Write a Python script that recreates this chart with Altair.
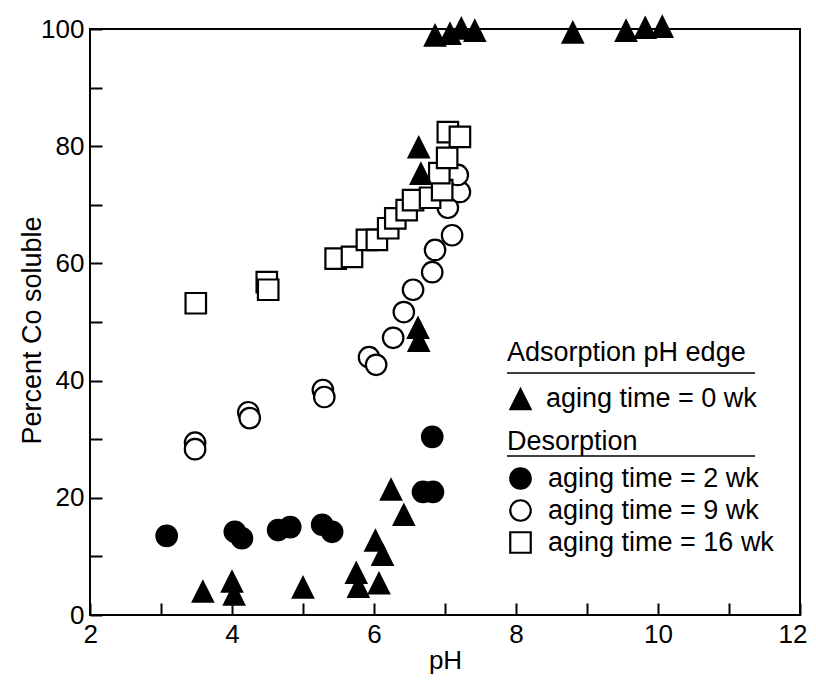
import altair as alt
import pandas as pd

# ---- data ----
# Adsorption pH edge, aging time = 0 wk (filled triangles)
ads_ph = [3.59, 4.00, 4.03, 5.00, 5.75, 5.78, 6.07, 6.02, 6.12, 6.24, 6.42,
          6.62, 6.63, 6.63, 6.66, 6.86, 7.07, 7.23, 7.42, 8.80, 9.55, 9.82, 10.06]
ads_pct = [4.1, 5.8, 3.6, 4.8, 7.3, 4.9, 5.5, 12.8, 10.4, 21.5, 17.2,
           49.1, 46.9, 79.9, 75.4, 99.0, 99.3, 100.2, 99.8, 99.5, 99.8, 100.3, 100.5]

# Desorption, aging time = 2 wk (filled circles)
d2_ph = [3.08, 4.04, 4.14, 4.65, 4.82, 5.27, 5.41, 6.69, 6.83, 6.82]
d2_pct = [13.5, 14.2, 13.1, 14.5, 15.0, 15.4, 14.2, 21.0, 21.0, 30.4]

# Desorption, aging time = 9 wk (open circles)
d9_ph = [3.48, 3.48, 4.23, 4.25, 5.28, 5.30, 5.93, 6.03, 6.27, 6.42, 6.55,
         6.82, 6.86, 7.10, 7.04, 7.21, 7.18]
d9_pct = [29.4, 28.3, 34.6, 33.6, 38.4, 37.2, 44.0, 42.7, 47.3, 51.7, 55.5,
          58.5, 62.3, 64.8, 69.5, 72.2, 75.1]

# Desorption, aging time = 16 wk (open squares)
d16_ph = [3.49, 4.49, 4.51, 5.46, 5.69, 5.90, 6.04, 6.20, 6.30, 6.46, 6.55,
          6.79, 6.96, 6.92, 7.03, 7.04, 7.21]
d16_pct = [53.2, 56.8, 55.5, 60.8, 61.1, 64.0, 64.0, 66.0, 67.7, 69.1, 70.8,
           71.2, 72.5, 75.4, 78.0, 82.4, 81.6]

ads_label = "aging time = 0 wk"
des_labels = ["aging time = 2 wk", "aging time = 9 wk", "aging time = 16 wk"]

x_ticks = list(range(2, 13))
y_ticks = list(range(0, 101, 10))

# ---- tables ----
ads = pd.DataFrame({"pH": ads_ph, "pct": ads_pct, "series": ads_label})
des = pd.concat([
    pd.DataFrame({"pH": d2_ph, "pct": d2_pct, "series": des_labels[0]}),
    pd.DataFrame({"pH": d9_ph, "pct": d9_pct, "series": des_labels[1]}),
    pd.DataFrame({"pH": d16_ph, "pct": d16_pct, "series": des_labels[2]}),
], ignore_index=True)

FONT = "Liberation Sans"
TRI = "M0,-1L1,1L-1,1Z"

x = alt.X("pH:Q",
          scale=alt.Scale(domain=[2, 12], nice=False, zero=False),
          axis=alt.Axis(title="pH", values=x_ticks,
                        labelExpr="datum.value % 2 == 0 ? datum.label : ''",
                        tickSize=12, offset=-12, domain=False, grid=False,
                        tickColor="black", tickWidth=2, labelPadding=6,
                        labelFlush=True, labelFlushOffset=7, labelOverlap=False,
                        labelFont=FONT, labelFontSize=26, labelColor="black",
                        titleFont=FONT, titleFontSize=26, titleFontWeight="normal",
                        titleColor="black", titlePadding=0))
y = alt.Y("pct:Q",
          scale=alt.Scale(domain=[0, 100], nice=False, zero=False),
          axis=alt.Axis(title="Percent Co soluble", values=y_ticks,
                        labelExpr="datum.value % 20 == 0 ? datum.label : ''",
                        tickSize=12, offset=-12, domain=False, grid=False,
                        tickColor="black", tickWidth=2, labelPadding=6,
                        labelOverlap=False,
                        labelFont=FONT, labelFontSize=26, labelColor="black",
                        titleFont=FONT, titleFontSize=27, titleFontWeight="normal",
                        titleColor="black", titleX=-70, titleY=301,
                        titleBaseline="middle"))

leg_common = dict(orient="none", titleFont=FONT, titleFontSize=27,
                  titleFontWeight="normal", titleColor="black",
                  labelFont=FONT, labelFontSize=27, labelColor="black",
                  labelLimit=400, titleLimit=400, titleAnchor="start")

des_legend = alt.Legend(title="Desorption", legendX=417, legendY=400,
                        titlePadding=9, rowPadding=1, labelOffset=14,
                        symbolSize=420, symbolStrokeWidth=2.2,
                        symbolStrokeColor="black", **leg_common)

des_layer = alt.Chart(des).mark_point(
    filled=True, strokeWidth=2.2, opacity=1, size=420
).encode(
    x=x, y=y,
    shape=alt.Shape("series:N", sort=des_labels,
                    scale=alt.Scale(domain=des_labels, range=["circle", "circle", "square"]),
                    legend=des_legend),
    fill=alt.Fill("series:N", sort=des_labels,
                  scale=alt.Scale(domain=des_labels, range=["black", "white", "white"]),
                  legend=des_legend),
    stroke=alt.Stroke("series:N", sort=des_labels,
                      scale=alt.Scale(domain=des_labels, range=["black", "black", "black"]),
                      legend=des_legend),
)

ads_layer = alt.Chart(ads).mark_point(
    filled=True, color="black", opacity=1, size=560
).encode(
    x=x, y=y,
    shape=alt.Shape("series:N",
                    scale=alt.Scale(domain=[ads_label], range=[TRI]),
                    legend=alt.Legend(title="Adsorption pH edge", legendX=417,
                                      legendY=311, titlePadding=18, labelOffset=12,
                                      symbolSize=560, symbolFillColor="black",
                                      symbolStrokeWidth=0, **leg_common)),
)

one = pd.DataFrame({"k": [0]})
rule1 = alt.Chart(one).mark_rule(color="black", strokeWidth=1.5).encode(
    x=alt.value(417), x2=alt.value(665), y=alt.value(344))
rule2 = alt.Chart(one).mark_rule(color="black", strokeWidth=1.5).encode(
    x=alt.value(417), x2=alt.value(665), y=alt.value(427))

chart = alt.layer(des_layer, ads_layer, rule1, rule2).resolve_scale(
    shape="independent", fill="independent", stroke="independent"
).properties(
    width=710, height=586,
    autosize=alt.AutoSizeParams(type="none"),
    padding={"left": 82, "top": 21, "right": 8, "bottom": 60},
    background="white",
).configure_view(stroke="black", strokeWidth=2)

chart.save("out.html", embed_options={"renderer": "svg", "actions": False})
